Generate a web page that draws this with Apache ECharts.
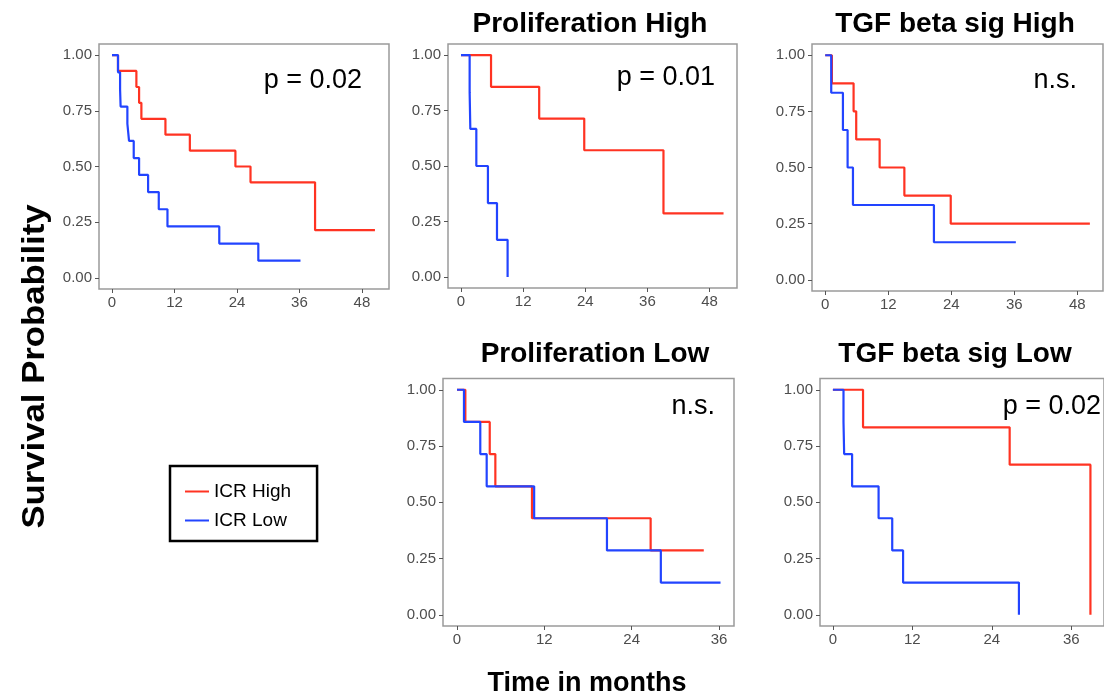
<!DOCTYPE html>
<html><head><meta charset="utf-8">
<script src="https://cdn.jsdelivr.net/npm/echarts@6/dist/echarts.min.js"></script>
<style>html,body{margin:0;padding:0;background:#fff}#c{width:1104px;height:699px}</style>
</head><body><div id="c"></div>
<script>
// ---- data ----
const groupNames = ['ICR High', 'ICR Low'];
const panelTitles = ['', 'Proliferation High', 'TGF beta sig High', 'Proliferation Low', 'TGF beta sig Low'];
const pValues = ['p = 0.02', 'p = 0.01', 'n.s.', 'n.s.', 'p = 0.02'];
const yTicks = [0, 0.25, 0.5, 0.75, 1];
const xTicksLong = [0, 12, 24, 36, 48];
const xTicksShort = [0, 12, 24, 36];
const axisTitleX = 'Time in months';
const axisTitleY = 'Survival Probability';

// Panel 1: all patients
const p1HighT = [0, 1.15, 4.68, 5.2, 5.64, 10.26, 14.95, 23.7, 26.6, 39.0, 50.5];
const p1HighS = [1, 0.929, 0.857, 0.786, 0.714, 0.643, 0.571, 0.5, 0.429, 0.214, 0.214];
const p1LowT = [0, 1.15, 1.55, 1.65, 2.95, 3.27, 4.17, 5.2, 6.93, 8.98, 10.65, 20.6, 28.1, 36.2];
const p1LowS = [1, 0.923, 0.846, 0.769, 0.692, 0.615, 0.538, 0.462, 0.385, 0.308, 0.231, 0.154, 0.077, 0.077];
// Panel 2: Proliferation High
const p2HighT = [0, 5.8, 15.1, 23.8, 39.1, 50.7];
const p2HighS = [1, 0.857, 0.714, 0.571, 0.286, 0.286];
const p2LowT = [0, 1.67, 1.8, 2.96, 5.2, 6.95, 9.0];
const p2LowS = [1, 0.833, 0.667, 0.5, 0.333, 0.167, 0];
// Panel 3: TGF beta sig High
const p3HighT = [0, 1.27, 5.4, 5.9, 10.36, 15.07, 23.9, 50.4];
const p3HighS = [1, 0.875, 0.75, 0.625, 0.5, 0.375, 0.25, 0.25];
const p3LowT = [0, 1.14, 3.37, 4.26, 5.28, 20.7, 36.3];
const p3LowS = [1, 0.833, 0.667, 0.5, 0.333, 0.167, 0.167];
// Panel 4: Proliferation Low
const p4HighT = [0, 1.15, 4.5, 5.27, 10.3, 26.6, 33.9];
const p4HighS = [1, 0.857, 0.714, 0.571, 0.429, 0.286, 0.286];
const p4LowT = [0, 0.96, 3.2, 4.08, 10.6, 20.6, 28.0, 36.2];
const p4LowS = [1, 0.857, 0.714, 0.571, 0.429, 0.286, 0.143, 0.143];
// Panel 5: TGF beta sig Low
const p5HighT = [0, 4.55, 26.7, 38.9];
const p5HighS = [1, 0.833, 0.667, 0];
const p5LowT = [0, 1.6, 1.7, 2.9, 6.9, 8.96, 10.6, 28.1];
const p5LowS = [1, 0.857, 0.714, 0.571, 0.429, 0.286, 0.143, 0];

// ---- layout ----
const FONT = "'Liberation Sans', Arial, Helvetica, sans-serif";
const RED = '#ff3322';
const BLUE = '#2244ff';
const panels = [
  {grid: {left: 99, top: 44, width: 290, height: 245}, xr: [-2.5, 53.2], xt: xTicksLong, high: [p1HighT, p1HighS], low: [p1LowT, p1LowS], title: [0, 0], p: [362, 80.5]},
  {grid: {left: 448, top: 44, width: 289, height: 244}, xr: [-2.51, 53.3], xt: xTicksLong, high: [p2HighT, p2HighS], low: [p2LowT, p2LowS], title: [590, 24], p: [715, 77.5]},
  {grid: {left: 812, top: 44, width: 291, height: 247}, xr: [-2.52, 52.9], xt: xTicksLong, high: [p3HighT, p3HighS], low: [p3LowT, p3LowS], title: [955, 24], p: [1077, 80.5]},
  {grid: {left: 443, top: 378.5, width: 291, height: 247.5}, xr: [-1.92, 38.05], xt: xTicksShort, high: [p4HighT, p4HighS], low: [p4LowT, p4LowS], title: [595, 354], p: [715, 407]},
  {grid: {left: 820, top: 378.5, width: 292, height: 247.5}, xr: [-1.95, 40.95], xt: xTicksShort, high: [p5HighT, p5HighS], low: [p5LowT, p5LowS], title: [955, 354], p: [1101, 407]}
];

const zip = (t, s) => t.map((v, i) => [v, s[i]]);
const grids = [], xAxes = [], yAxes = [], series = [], graphics = [];
panels.forEach((p, i) => {
  grids.push(Object.assign({show: true, borderColor: '#9a9a9a', borderWidth: 1.5, backgroundColor: '#fff', containLabel: false}, p.grid));
  xAxes.push({
    type: 'value', gridIndex: i, min: p.xr[0], max: p.xr[1], position: 'bottom',
    axisLine: {show: false, onZero: false}, splitLine: {show: false},
    axisTick: {show: true, inside: false, customValues: p.xt, length: 4, lineStyle: {color: '#555', width: 1}},
    axisLabel: {customValues: p.xt, margin: 6, fontSize: 15, color: '#4d4d4d', fontFamily: FONT}
  });
  yAxes.push({
    type: 'value', gridIndex: i, min: -0.05, max: 1.05, position: 'left',
    axisLine: {show: false, onZero: false}, splitLine: {show: false},
    axisTick: {show: true, inside: false, customValues: yTicks, length: 4, lineStyle: {color: '#555', width: 1}},
    axisLabel: {customValues: yTicks, margin: 7, fontSize: 15, color: '#4d4d4d', fontFamily: FONT, formatter: v => v.toFixed(2)}
  });
  [[p.high, RED, groupNames[0]], [p.low, BLUE, groupNames[1]]].forEach(([d, c, n]) => {
    series.push({
      type: 'line', name: n, xAxisIndex: i, yAxisIndex: i, step: 'end', symbol: 'none',
      data: zip(d[0], d[1]), lineStyle: {color: c, width: 2.2}, itemStyle: {color: c}, silent: true
    });
  });
  if (panelTitles[i]) {
    graphics.push({type: 'text', x: p.title[0], y: p.title[1],
      style: {text: panelTitles[i], fontSize: 28, fontWeight: 'bold', fontFamily: FONT, fill: '#000', align: 'center', verticalAlign: 'middle'}});
  }
  graphics.push({type: 'text', x: p.p[0], y: p.p[1], z: 10,
    style: {text: pValues[i], fontSize: 27, fontFamily: FONT, fill: '#000', align: 'right', verticalAlign: 'middle'}});
});
graphics.push({type: 'text', x: 35, y: 366.5, rotation: Math.PI / 2, scaleX: 1.12,
  style: {text: axisTitleY, fontSize: 31, fontWeight: 'bold', fontFamily: FONT, fill: '#000', align: 'center', verticalAlign: 'middle'}});
graphics.push({type: 'text', x: 587, y: 684,
  style: {text: axisTitleX, fontSize: 27, fontWeight: 'bold', fontFamily: FONT, fill: '#000', align: 'center', verticalAlign: 'middle'}});

const chart = echarts.init(document.getElementById('c'), null, {renderer: 'canvas'});
chart.setOption({
  animation: false,
  backgroundColor: '#fff',
  grid: grids, xAxis: xAxes, yAxis: yAxes, series: series,
  legend: {
    data: groupNames, orient: 'vertical', left: 170, top: 466,
    icon: 'rect', itemWidth: 24, itemHeight: 2, itemGap: 10,
    padding: [16, 26, 11, 15], borderColor: '#000', borderWidth: 2.5, borderRadius: 0,
    selectedMode: false,
    textStyle: {fontSize: 19, color: '#000', fontFamily: FONT}
  },
  graphic: graphics
});
</script></body></html>
